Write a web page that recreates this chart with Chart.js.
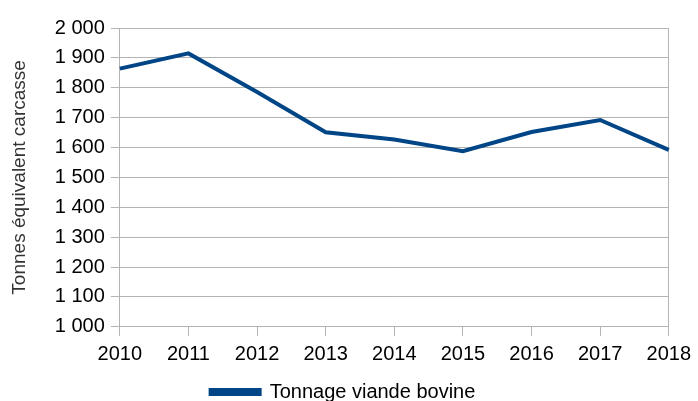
<!DOCTYPE html>
<html>
<head>
<meta charset="utf-8">
<script src="https://cdn.jsdelivr.net/npm/chart.js@4"></script>
<style>
  html, body { margin: 0; padding: 0; background: #fff; }
  #wrap { width: 698px; height: 401px; }
</style>
</head>
<body>
<div id="wrap"><canvas id="tonnage_chart"></canvas></div>
<script>
const annees = ["2010", "2011", "2012", "2013", "2014", "2015", "2016", "2017", "2018"];
const tonnage = [1864, 1915, 1786, 1651, 1627, 1588, 1652, 1692, 1592];
const nomSerie = "Tonnage viande bovine";
const titreY = "Tonnes équivalent carcasse";

const ctx_tonnage = document.getElementById("tonnage_chart");

function espaceMilliers(v){
    return String(v).replace(/\B(?=(\d{3})+(?!\d))/g, " ")
}

const tonnage_chart = new Chart(ctx_tonnage, {
    type: 'line',
    data: {
        labels: annees,
        datasets: [
            {
                label: nomSerie,
                data: tonnage,
                borderColor: '#004586',
                backgroundColor: '#004586',
                borderWidth: 4,
                pointRadius: 0,
                pointHoverRadius: 0,
                tension: 0
            }
        ]
    },
    options: {
        responsive: true,
        maintainAspectRatio: false,
        animation: false,
        layout: { padding: { left: 8, right: 20, top: 28, bottom: -11 } },
        plugins: {
            legend: {
                position: 'bottom',
                title: {
                    display: true,
                    text: ' ',
                    padding: { top: 0, bottom: 6 },
                    font: { size: 1 }
                },
                labels: {
                    boxWidth: 49,
                    boxHeight: 4,
                    color: '#000',
                    padding: 1,
                    font: { family: 'Liberation Sans', size: 20 }
                }
            },
            tooltip: { enabled: false }
        },
        scales: {
            x: {
                offset: false,
                border: { color: '#b3b3b3', width: 1 },
                grid: {
                    drawOnChartArea: true,
                    color: (c) => (c.index === annees.length - 1 ? '#b3b3b3' : 'rgba(0,0,0,0)'),
                    tickColor: '#b3b3b3',
                    tickLength: 9
                },
                ticks: {
                    color: '#000',
                    padding: 7,
                    maxRotation: 0,
                    font: { family: 'Liberation Sans', size: 20 }
                }
            },
            y: {
                min: 1000,
                max: 2000,
                border: { color: '#b3b3b3', width: 1 },
                grid: {
                    color: '#b3b3b3',
                    tickLength: 9
                },
                ticks: {
                    stepSize: 100,
                    color: '#000',
                    padding: 6,
                    font: { family: 'Liberation Sans', size: 20 },
                    callback: (v) => espaceMilliers(v)
                },
                title: {
                    display: true,
                    text: titreY,
                    color: '#333',
                    padding: { top: 0, bottom: 18 },
                    font: { family: 'Liberation Sans', size: 19 }
                }
            }
        }
    }
});
</script>
</body>
</html>
